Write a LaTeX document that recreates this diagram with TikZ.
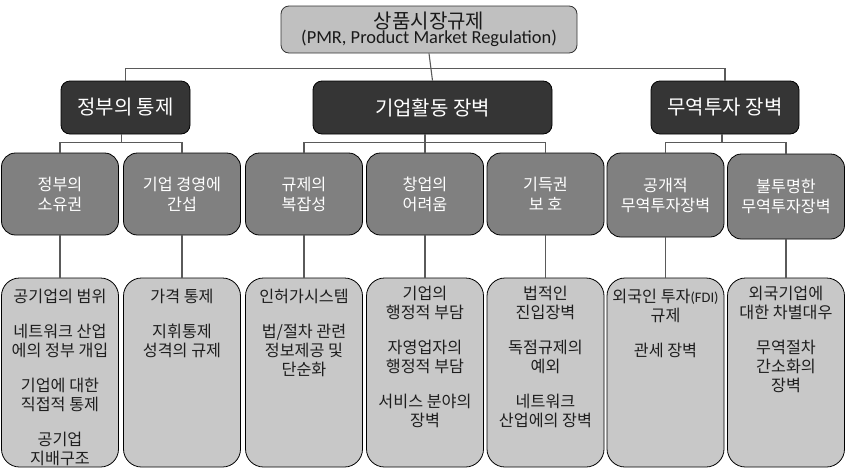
\documentclass[tikz,border=0pt]{standalone}
\usepackage{fontspec}
\setmainfont{Noto Sans CJK KR}
\newfontfamily\latin{Carlito}
\usetikzlibrary{calc}
\definecolor{topfill}{HTML}{C0C0C0}
\definecolor{darkfill}{HTML}{353535}
\definecolor{midfill}{HTML}{808080}
\definecolor{leaffill}{HTML}{C8C8C8}
\definecolor{linecol}{HTML}{5A5A5A}
\definecolor{leaftxt}{HTML}{1E1E1E}
\begin{document}
\begin{tikzpicture}[x=1pt,y=-1pt,
  topbox/.style={draw=black!80,line width=0.8pt,fill=topfill,rounded corners=8pt,
    minimum width=296pt,minimum height=47pt,inner sep=0pt,align=center,text=black!90},
  catbox/.style={draw=black,line width=0.8pt,fill=darkfill,rounded corners=9pt,
    minimum height=53pt,inner sep=0pt,text=white,font=\fontsize{20}{24}\selectfont},
  subbox/.style={draw=black,line width=0.8pt,fill=midfill,rounded corners=14pt,
    minimum width=117pt,minimum height=82pt,inner sep=0pt,align=center,text=white,
    font=\fontsize{16.2}{20}\selectfont},
  leafbox/.style={draw=black,line width=0.8pt,fill=leaffill,rounded corners=18pt,
    minimum width=117pt,minimum height=189pt,inner sep=0pt},
  leaftext/.style={anchor=north,inner sep=0pt,align=center,text=leaftxt,
    font=\fontsize{16.2}{19}\selectfont},
  conn/.style={draw=linecol,line width=1.1pt}
]
\useasboundingbox (0,0) rectangle (846,469);
\def\gap{\\[16pt]}
% top
\node[topbox] (top) at (429,29.5) {{\fontsize{20}{23.5}\selectfont 상품시장규제}\\[-1pt]{\latin\fontsize{18.4}{22}\selectfont (PMR, Product Market Regulation)}};
% level 1
\node[catbox,minimum width=129pt] (A) at (125.5,107.5) {정부의 통제};
\node[catbox,minimum width=239pt] (B) at (432.5,107.5) {기업활동 장벽};
\node[catbox,minimum width=148pt] (C) at (725,107.5) {무역투자 장벽};
% level 2
\node[subbox] (s1) at (60,194) {정부의\\소유권};
\node[subbox] (s2) at (182,194) {기업 경영에\\간섭};
\node[subbox] (s3) at (304,194) {규제의\\복잡성};
\node[subbox] (s4) at (425,194) {창업의\\어려움};
\node[subbox] (s5) at (545.5,194) {기득권\\보 호};
\node[subbox,minimum height=84pt] (s6) at (665.5,195) {공개적\\무역투자장벽};
\node[subbox,minimum height=85pt] (s7) at (786,196.5) {불투명한\\무역투자장벽};
% level 3
\foreach \n/\x in {1/60,2/182,3/304,4/425,5/545.5,6/665.5,7/786}{
  \node[leafbox] (l\n) at (\x,372.5) {};
}
\node[leaftext] (t1) at ($(l1.north)+(0,11)$) {공기업의 범위\gap 네트워크 산업\\에의 정부 개입\gap 기업에 대한\\직접적 통제\gap 공기업\\지배구조};
\node[leaftext] (t2) at ($(l2.north)+(0,11)$) {가격 통제\gap 지휘통제\\성격의 규제};
\node[leaftext] (t3) at ($(l3.north)+(0,11)$) {인허가시스템\gap 법/절차 관련\\정보제공 및\\단순화};
\node[leaftext] (t4) at ($(l4.north)+(0,8.5)$) {기업의\\행정적 부담\gap 자영업자의\\행정적 부담\gap 서비스 분야의\\장벽};
\node[leaftext] (t5) at ($(l5.north)+(0,8.5)$) {법적인\\진입장벽\gap 독점규제의\\예외\gap 네트워크\\산업에의 장벽};
\node[leaftext] (t6) at ($(l6.north)+(0,11)$) {외국인 투자{\latin\fontsize{14.5}{18}\selectfont (FDI)}\\규제\gap 관세 장벽};
\node[leaftext] (t7) at ($(l7.north)+(0,8.5)$) {외국기업에\\대한 차별대우\gap 무역절차\\간소화의\\장벽};
% connectors top -> level 1
\draw[conn] (A.north) -- ++(0,-12) -| (C.north);
\draw[conn] (top.south) -- (B.north);
% level 1 -> level 2
\coordinate (jA) at ($(s1.north)+(0,-10)$);
\coordinate (jC) at ($(s6.north)+(0,-10)$);
\draw[conn] (s1.north) -- (jA) -| (s2.north);
\draw[conn] ($(A.south)+(-4,0)$) -- ($(A.south |- jA)+(-4,0)$);
\draw[conn] (s3.north) -- ++(0,-10) -| (s5.north);
\draw[conn] (s4.north |- B.south) -- (s4.north);
\draw[conn] (s6.north) -- (jC) -| (s7.north);
\draw[conn] ($(C.south)+(-3,0)$) -- ($(C.south |- jC)+(-3,0)$);
% level 2 -> level 3
\foreach \n in {1,...,7}{
  \draw[conn] (s\n.south) -- (l\n.north);
}
\end{tikzpicture}
\end{document}
